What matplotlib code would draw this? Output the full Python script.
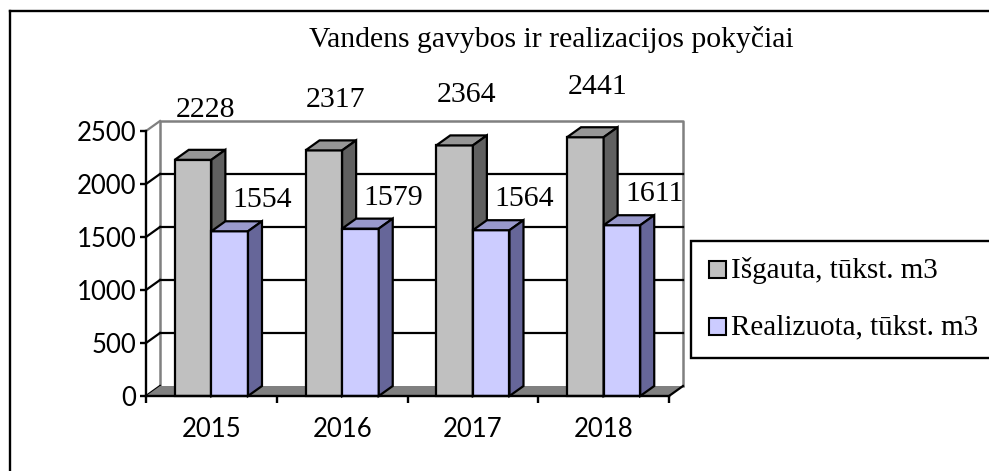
import matplotlib.pyplot as plt
from matplotlib.patches import Rectangle, Polygon
from matplotlib.lines import Line2D
import numpy as np

# chart data
years = ['2015', '2016', '2017', '2018']
isgauta = [2228, 2317, 2364, 2441]
realizuota = [1554, 1579, 1564, 1611]
series_names = ['Išgauta, tūkst. m3', 'Realizuota, tūkst. m3']
yticks = [0, 500, 1000, 1500, 2000, 2500]
title = 'Vandens gavybos ir realizacijos pokyčiai'

W, H = 989, 471
serif = ['Liberation Serif', 'DejaVu Serif']
sans = ['Lato', 'DejaVu Sans']


def fx(x):
    return x / W


def fy(y):
    return 1 - y / H


fig = plt.figure(figsize=(W / 100, H / 100), dpi=100)

# front plane of the 3d chart, in pixels: x 146..669, y 396..131
ax = fig.add_axes([fx(146), fy(396), (669 - 146) / W, (396 - 131) / H])
ax.set_xlim(-0.5, 3.5)
ax.set_ylim(0, 2500)
ax.set_facecolor('none')

# depth offset (14 px right, 10 px up) in data units
ddx = 14 / ((669 - 146) / 4)
ddy = 10 / (265 / 2500)
bw = 0.28
lw = 1.6

# back wall: frame and gridlines
wall_c = '#808080'
x_l, x_r = -0.5 + ddx, 3.5 + ddx
ax.plot([x_l, x_l, x_r, x_r], [ddy, 2500 + ddy, 2500 + ddy, ddy], color=wall_c, lw=1.8, clip_on=False, zorder=1)
for t in yticks[1:-1]:
    ax.plot([x_l, x_r], [t + ddy, t + ddy], color='black', lw=lw, clip_on=False, zorder=1)
for t in yticks:
    ax.plot([-0.5, x_l], [t, t + ddy], color='black' if t < 2500 else wall_c, lw=lw, clip_on=False, zorder=1)

# floor
ax.add_patch(Polygon([(-0.5, 0), (3.5, 0), (x_r, ddy), (x_l, ddy)], closed=True,
                     facecolor='#808080', edgecolor='none', clip_on=False, zorder=2))
ax.plot([3.5, x_r], [0, ddy], color='black', lw=lw, clip_on=False, zorder=2)


def bar3d(x0, v, front, top, side):
    kw = dict(edgecolor='black', lw=lw, clip_on=False, zorder=3, joinstyle='miter')
    ax.add_patch(Rectangle((x0, 0), bw, v, facecolor=front, **kw))
    ax.add_patch(Polygon([(x0, v), (x0 + bw, v), (x0 + bw + ddx, v + ddy), (x0 + ddx, v + ddy)],
                         closed=True, facecolor=top, **kw))
    ax.add_patch(Polygon([(x0 + bw, 0), (x0 + bw + ddx, ddy), (x0 + bw + ddx, v + ddy), (x0 + bw, v)],
                         closed=True, facecolor=side, **kw))


xpos = np.arange(len(years))
for i in xpos:
    bar3d(i - bw, isgauta[i], '#C0C0C0', '#969696', '#606060')
    bar3d(i, realizuota[i], '#CCCCFF', '#9999CC', '#666699')

# data labels
for i in xpos:
    ax.annotate(str(isgauta[i]), (i - bw / 2, isgauta[i]), xytext=(12 * 0.72, 50 * 0.72),
                textcoords='offset points', ha='center', va='center', fontsize=21.5,
                family=serif, zorder=5, annotation_clip=False)
    ax.annotate(str(realizuota[i]), (i + bw / 2, realizuota[i]), xytext=(33 * 0.72, 31 * 0.72),
                textcoords='offset points', ha='center', va='center', fontsize=21.5,
                family=serif, zorder=5, annotation_clip=False)

# axes
for s in ['top', 'right']:
    ax.spines[s].set_visible(False)
for s in ['left', 'bottom']:
    ax.spines[s].set_linewidth(1.7)
    ax.spines[s].set_zorder(4)
ax.set_yticks(yticks)
ax.set_yticklabels([str(t) for t in yticks], fontsize=18.5, family=sans)
ax.tick_params(axis='y', length=4, width=1.7, pad=3)
ax.set_xticks(xpos)
ax.set_xticklabels(years, fontsize=18.5, family=sans)
ax.set_xticks(np.arange(-0.5, 4, 1), minor=True)
ax.tick_params(axis='x', which='major', length=0, pad=15)
ax.tick_params(axis='x', which='minor', length=5, width=1.7)

# title
fig.text(fx(551), fy(47), title, ha='center', va='baseline', fontsize=21.3, family=serif)

# legend box drawn by hand
fig.add_artist(Rectangle((fx(691), fy(358)), fx(1010) - fx(691), fy(241) - fy(358),
                         transform=fig.transFigure, facecolor='white', edgecolor='black', lw=1.7))
leg_cols = ['#C0C0C0', '#CCCCFF']
for k, name in enumerate(series_names):
    yc = [270, 327][k]
    fig.add_artist(Rectangle((fx(709), fy(yc + 8)), 17 / W, 17 / H, transform=fig.transFigure,
                             facecolor=leg_cols[k], edgecolor='black', lw=1.5))
    fig.text(fx(731), fy(yc), name, ha='left', va='center', fontsize=21, family=serif)

# outer frame of the chart object
fig.add_artist(Line2D([fx(10), fx(10)], [fy(11), fy(480)], color='black', lw=1.7, transform=fig.transFigure))
fig.add_artist(Line2D([fx(10), fx(1000)], [fy(11), fy(11)], color='black', lw=1.7, transform=fig.transFigure))

fig.savefig('out.png', dpi=100)
